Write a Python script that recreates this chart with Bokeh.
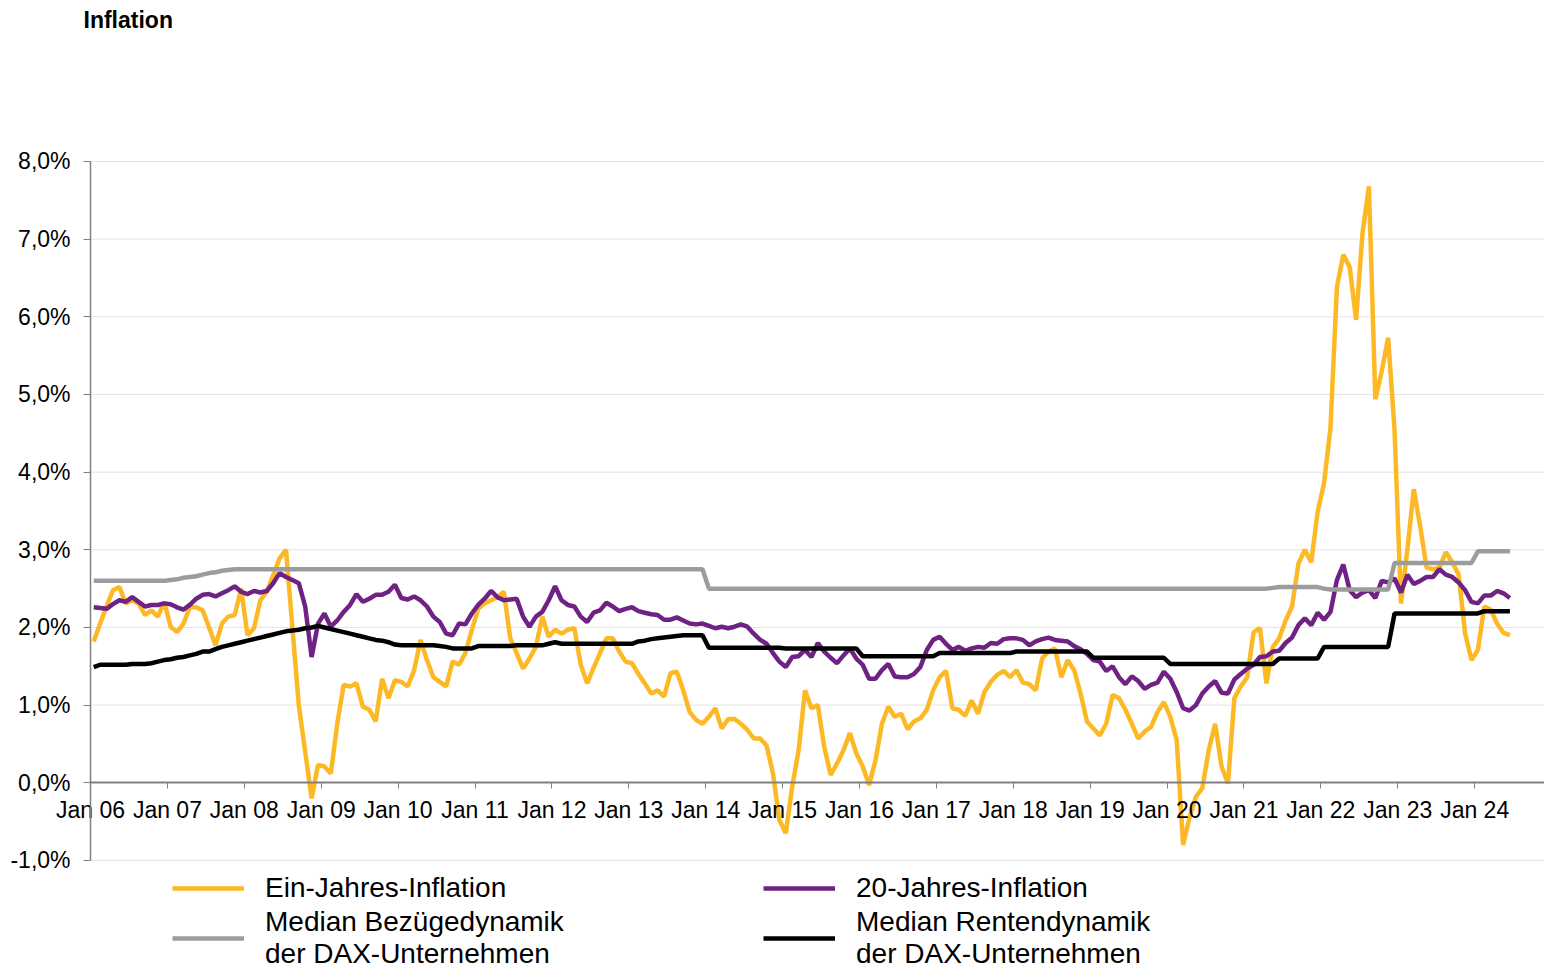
from bokeh.plotting import figure
from bokeh.models import FixedTicker, Legend, LegendItem, Label, Range1d, ColumnDataSource
from bokeh.embed import file_html
from bokeh.resources import INLINE

# Monthly values, Jan 2006 - Jun 2024 (in %)
ein_jahres = [
    1.82, 2.05, 2.27, 2.48, 2.52, 2.31, 2.35, 2.31, 2.16, 2.22, 2.14, 2.33,
    2.01, 1.94, 2.05, 2.26, 2.26, 2.22, 2.00, 1.77, 2.05, 2.14, 2.16, 2.50,
    1.90, 1.99, 2.35, 2.46, 2.67, 2.89, 3.00, 2.00, 1.00, 0.40, -0.20, 0.23,
    0.21, 0.12, 0.76, 1.26, 1.24, 1.28, 0.98, 0.94, 0.79, 1.34, 1.09, 1.32,
    1.30, 1.24, 1.45, 1.84, 1.58, 1.36, 1.30, 1.24, 1.56, 1.52, 1.67, 1.97,
    2.24, 2.31, 2.35, 2.39, 2.46, 1.86, 1.67, 1.47, 1.60, 1.75, 2.14, 1.88,
    1.97, 1.92, 1.97, 1.99, 1.52, 1.28, 1.48, 1.67, 1.86, 1.86, 1.69, 1.56,
    1.54, 1.40, 1.28, 1.15, 1.19, 1.11, 1.41, 1.43, 1.19, 0.91, 0.81, 0.76,
    0.85, 0.96, 0.70, 0.82, 0.82, 0.76, 0.68, 0.57, 0.57, 0.48, 0.12, -0.48,
    -0.65, -0.05, 0.42, 1.19, 0.96, 1.00, 0.46, 0.10, 0.25, 0.42, 0.64, 0.38,
    0.21, -0.03, 0.29, 0.76, 0.98, 0.85, 0.89, 0.69, 0.79, 0.83, 0.94, 1.19,
    1.36, 1.44, 0.96, 0.94, 0.86, 1.06, 0.89, 1.17, 1.30, 1.39, 1.44, 1.36,
    1.45, 1.29, 1.27, 1.19, 1.60, 1.69, 1.73, 1.36, 1.58, 1.45, 1.15, 0.79,
    0.70, 0.61, 0.76, 1.13, 1.09, 0.94, 0.76, 0.57, 0.66, 0.72, 0.91, 1.04,
    0.85, 0.55, -0.80, -0.45, -0.18, -0.07, 0.42, 0.76, 0.21, -0.01, 1.09, 1.24,
    1.36, 1.94, 1.99, 1.28, 1.75, 1.86, 2.09, 2.27, 2.82, 3.00, 2.84, 3.49,
    3.86, 4.57, 6.38, 6.80, 6.64, 5.96, 7.08, 7.68, 4.94, 5.30, 5.73, 4.54,
    2.31, 3.00, 3.78, 3.30, 2.77, 2.75, 2.77, 2.97, 2.84, 2.68, 1.93, 1.58,
    1.71, 2.27, 2.23, 2.05, 1.93, 1.90,
]
zwanzig_jahres = [
    2.26, 2.25, 2.24, 2.30, 2.35, 2.33, 2.39, 2.33, 2.27, 2.29, 2.29, 2.31,
    2.30, 2.26, 2.23, 2.29, 2.37, 2.42, 2.43, 2.40, 2.44, 2.48, 2.53, 2.46,
    2.43, 2.47, 2.45, 2.47, 2.57, 2.70, 2.65, 2.61, 2.57, 2.27, 1.62, 2.05,
    2.18, 2.01, 2.09, 2.20, 2.29, 2.43, 2.33, 2.37, 2.42, 2.42, 2.46, 2.55,
    2.38, 2.36, 2.40, 2.35, 2.27, 2.14, 2.07, 1.92, 1.90, 2.05, 2.04, 2.18,
    2.29, 2.37, 2.47, 2.39, 2.35, 2.36, 2.37, 2.14, 2.01, 2.14, 2.20, 2.35,
    2.53, 2.35, 2.29, 2.27, 2.14, 2.07, 2.19, 2.22, 2.32, 2.27, 2.21, 2.24,
    2.26, 2.21, 2.19, 2.17, 2.16, 2.10, 2.10, 2.13, 2.09, 2.05, 2.04, 2.05,
    2.02, 1.99, 2.01, 1.99, 2.01, 2.04, 2.01, 1.92, 1.84, 1.79, 1.67, 1.56,
    1.49, 1.62, 1.63, 1.71, 1.62, 1.80, 1.69, 1.61, 1.54, 1.64, 1.73, 1.60,
    1.52, 1.34, 1.34, 1.45, 1.53, 1.37, 1.36, 1.36, 1.40, 1.49, 1.71, 1.84,
    1.88, 1.79, 1.71, 1.75, 1.70, 1.73, 1.75, 1.74, 1.80, 1.79, 1.85, 1.86,
    1.86, 1.84, 1.77, 1.82, 1.85, 1.87, 1.84, 1.83, 1.82, 1.76, 1.72, 1.66,
    1.58, 1.56, 1.44, 1.50, 1.36, 1.27, 1.37, 1.31, 1.21, 1.26, 1.29, 1.43,
    1.34, 1.17, 0.96, 0.93, 1.00, 1.15, 1.24, 1.31, 1.16, 1.15, 1.33, 1.40,
    1.47, 1.52, 1.62, 1.63, 1.69, 1.70, 1.80, 1.87, 2.03, 2.12, 2.03, 2.19,
    2.10, 2.20, 2.61, 2.81, 2.48, 2.39, 2.45, 2.48, 2.38, 2.60, 2.58, 2.63,
    2.45, 2.68, 2.56, 2.60, 2.65, 2.65, 2.75, 2.68, 2.65, 2.58, 2.48, 2.33,
    2.31, 2.41, 2.41, 2.47, 2.44, 2.38,
]
bezuegedynamik = [
    2.60, 2.60, 2.60, 2.60, 2.60, 2.60, 2.60, 2.60, 2.60, 2.60, 2.60, 2.60,
    2.61, 2.62, 2.64, 2.65, 2.66, 2.68, 2.70, 2.71, 2.73, 2.74, 2.75, 2.75,
    2.75, 2.75, 2.75, 2.75, 2.75, 2.75, 2.75, 2.75, 2.75, 2.75, 2.75, 2.75,
    2.75, 2.75, 2.75, 2.75, 2.75, 2.75, 2.75, 2.75, 2.75, 2.75, 2.75, 2.75,
    2.75, 2.75, 2.75, 2.75, 2.75, 2.75, 2.75, 2.75, 2.75, 2.75, 2.75, 2.75,
    2.75, 2.75, 2.75, 2.75, 2.75, 2.75, 2.75, 2.75, 2.75, 2.75, 2.75, 2.75,
    2.75, 2.75, 2.75, 2.75, 2.75, 2.75, 2.75, 2.75, 2.75, 2.75, 2.75, 2.75,
    2.75, 2.75, 2.75, 2.75, 2.75, 2.75, 2.75, 2.75, 2.75, 2.75, 2.75, 2.75,
    2.50, 2.50, 2.50, 2.50, 2.50, 2.50, 2.50, 2.50, 2.50, 2.50, 2.50, 2.50,
    2.50, 2.50, 2.50, 2.50, 2.50, 2.50, 2.50, 2.50, 2.50, 2.50, 2.50, 2.50,
    2.50, 2.50, 2.50, 2.50, 2.50, 2.50, 2.50, 2.50, 2.50, 2.50, 2.50, 2.50,
    2.50, 2.50, 2.50, 2.50, 2.50, 2.50, 2.50, 2.50, 2.50, 2.50, 2.50, 2.50,
    2.50, 2.50, 2.50, 2.50, 2.50, 2.50, 2.50, 2.50, 2.50, 2.50, 2.50, 2.50,
    2.50, 2.50, 2.50, 2.50, 2.50, 2.50, 2.50, 2.50, 2.50, 2.50, 2.50, 2.50,
    2.50, 2.50, 2.50, 2.50, 2.50, 2.50, 2.50, 2.50, 2.50, 2.50, 2.50, 2.50,
    2.50, 2.50, 2.50, 2.50, 2.51, 2.52, 2.52, 2.52, 2.52, 2.52, 2.52, 2.52,
    2.50, 2.49, 2.49, 2.49, 2.49, 2.49, 2.49, 2.49, 2.49, 2.49, 2.49, 2.83,
    2.83, 2.83, 2.83, 2.83, 2.83, 2.83, 2.83, 2.83, 2.83, 2.83, 2.83, 2.83,
    2.98, 2.98, 2.98, 2.98, 2.98, 2.98,
]
rentendynamik = [
    1.49, 1.52, 1.52, 1.52, 1.52, 1.52, 1.53, 1.53, 1.53, 1.54, 1.56, 1.58,
    1.59, 1.61, 1.62, 1.64, 1.66, 1.69, 1.69, 1.72, 1.75, 1.77, 1.79, 1.81,
    1.83, 1.85, 1.87, 1.89, 1.91, 1.93, 1.95, 1.96, 1.97, 1.99, 2.00, 2.02,
    2.00, 1.98, 1.96, 1.94, 1.92, 1.90, 1.88, 1.86, 1.84, 1.83, 1.81, 1.78,
    1.77, 1.77, 1.77, 1.77, 1.77, 1.77, 1.76, 1.75, 1.73, 1.73, 1.73, 1.73,
    1.76, 1.76, 1.76, 1.76, 1.76, 1.76, 1.77, 1.77, 1.77, 1.77, 1.77, 1.79,
    1.81, 1.79, 1.79, 1.79, 1.79, 1.79, 1.79, 1.79, 1.79, 1.79, 1.79, 1.79,
    1.79, 1.82, 1.83, 1.85, 1.86, 1.87, 1.88, 1.89, 1.90, 1.90, 1.90, 1.90,
    1.74, 1.74, 1.74, 1.74, 1.74, 1.74, 1.74, 1.74, 1.74, 1.74, 1.74, 1.74,
    1.73, 1.73, 1.73, 1.73, 1.73, 1.73, 1.73, 1.73, 1.73, 1.73, 1.73, 1.73,
    1.63, 1.63, 1.63, 1.63, 1.63, 1.63, 1.63, 1.63, 1.63, 1.63, 1.63, 1.63,
    1.67, 1.67, 1.67, 1.67, 1.67, 1.67, 1.67, 1.67, 1.67, 1.67, 1.67, 1.67,
    1.69, 1.69, 1.69, 1.69, 1.69, 1.69, 1.69, 1.69, 1.69, 1.69, 1.69, 1.69,
    1.61, 1.61, 1.61, 1.61, 1.61, 1.61, 1.61, 1.61, 1.61, 1.61, 1.61, 1.61,
    1.53, 1.53, 1.53, 1.53, 1.53, 1.53, 1.53, 1.53, 1.53, 1.53, 1.53, 1.53,
    1.53, 1.53, 1.53, 1.53, 1.53, 1.60, 1.60, 1.60, 1.60, 1.60, 1.60, 1.60,
    1.75, 1.75, 1.75, 1.75, 1.75, 1.75, 1.75, 1.75, 1.75, 1.75, 1.75, 2.18,
    2.18, 2.18, 2.18, 2.18, 2.18, 2.18, 2.18, 2.18, 2.18, 2.18, 2.18, 2.18,
    2.18, 2.21, 2.21, 2.21, 2.21, 2.21,
]
x_tick_labels = ["Jan 06", "Jan 07", "Jan 08", "Jan 09", "Jan 10", "Jan 11", "Jan 12",
                 "Jan 13", "Jan 14", "Jan 15", "Jan 16", "Jan 17", "Jan 18", "Jan 19",
                 "Jan 20", "Jan 21", "Jan 22", "Jan 23", "Jan 24"]
y_tick_values = [-1, 0, 1, 2, 3, 4, 5, 6, 7, 8]
y_tick_labels = ["-1,0%", "0,0%", "1,0%", "2,0%", "3,0%", "4,0%", "5,0%", "6,0%", "7,0%", "8,0%"]
series_names = ["Ein-Jahres-Inflation", "20-Jahres-Inflation",
                "Median Bezügedynamik\nder DAX-Unternehmen",
                "Median Rentendynamik\nder DAX-Unternehmen"]

FONT = "Liberation Sans"
W, H = 1544, 970
n = len(ein_jahres)
# position in months since Jan 2006, each value plotted at mid-month
month_pos = [i + 0.5 for i in range(n)]
source = ColumnDataSource(dict(x=month_pos, ein=ein_jahres, zwanzig=zwanzig_jahres,
                               bez=bezuegedynamik, rent=rentendynamik))

# the frame covers the whole canvas; axes are pinned to 0 inside it
X_START, X_END = -14.05, 226.9
Y_START, Y_END = -2.417, 10.073
p = figure(width=W, height=H, output_backend="svg", toolbar_location=None,
           x_range=Range1d(X_START, X_END), y_range=Range1d(Y_START, Y_END),
           min_border_left=0, min_border_right=0, min_border_top=0, min_border_bottom=0)
p.outline_line_color = None
p.background_fill_color = "white"
p.border_fill_color = "white"
p.xgrid.visible = False
p.ygrid.visible = False

# horizontal gridlines starting at the y axis (Jan 06)
grid_y = [v for v in y_tick_values if v != 0]
p.segment(x0=[0] * len(grid_y), y0=grid_y, x1=[X_END] * len(grid_y), y1=grid_y,
          line_color="#E4E4E4", line_width=1)

r1 = p.line("x", "ein", source=source, line_color="#FDB825", line_width=4.5)
r2 = p.line("x", "zwanzig", source=source, line_color="#6F2283", line_width=4.5)
r3 = p.line("x", "bez", source=source, line_color="#9C9C9C", line_width=4.5)
r4 = p.line("x", "rent", source=source, line_color="#000000", line_width=4.5)

# y axis pinned at Jan 06
yax = p.yaxis[0]
yax.fixed_location = 0
yax.bounds = (y_tick_values[0], y_tick_values[-1])
yax.ticker = FixedTicker(ticks=y_tick_values)
yax.major_label_overrides = {v: t for v, t in zip(y_tick_values, y_tick_labels)}
yax.major_label_text_font = FONT
yax.major_label_text_font_size = "23px"
yax.major_label_text_color = "black"
yax.axis_line_color = "#808080"
yax.axis_line_width = 1.5
yax.major_tick_line_color = "#808080"
yax.major_tick_out = 7
yax.major_tick_in = 0
yax.minor_tick_line_color = None
yax.major_label_standoff = 13

# x axis on the zero line
x_ticks = [12 * i for i in range(len(x_tick_labels))]
xax = p.xaxis[0]
xax.fixed_location = 0
xax.bounds = (0, X_END)
xax.ticker = FixedTicker(ticks=x_ticks)
xax.major_label_overrides = {v: t for v, t in zip(x_ticks, x_tick_labels)}
xax.major_label_text_font = FONT
xax.major_label_text_font_size = "23px"
xax.major_label_text_color = "black"
xax.axis_line_color = "#808080"
xax.axis_line_width = 2
xax.major_tick_line_color = "#808080"
xax.major_tick_out = 6
xax.major_tick_in = 0
xax.minor_tick_line_color = None
xax.major_label_standoff = 8

legend = Legend(items=[LegendItem(label=series_names[0], renderers=[r1]),
                       LegendItem(label=series_names[1], renderers=[r2]),
                       LegendItem(label=series_names[2], renderers=[r3]),
                       LegendItem(label=series_names[3], renderers=[r4])],
                ncols=2, orientation="horizontal", location=(172, 0),
                border_line_color=None, background_fill_alpha=0,
                label_text_font=FONT, label_text_font_size="28px",
                label_text_color="black", label_text_line_height=1.3,
                glyph_width=72, glyph_height=24, label_standoff=21,
                label_width=496, spacing=2, padding=0, margin=0)
p.add_layout(legend)

title = Label(x=83, y=H - 19, x_units="screen", y_units="screen", text="Inflation",
              text_font=FONT, text_font_size="23px", text_font_style="bold",
              text_color="black", text_baseline="middle", text_align="left")
p.add_layout(title)

open("out.html", "w").write(file_html(p, INLINE))
